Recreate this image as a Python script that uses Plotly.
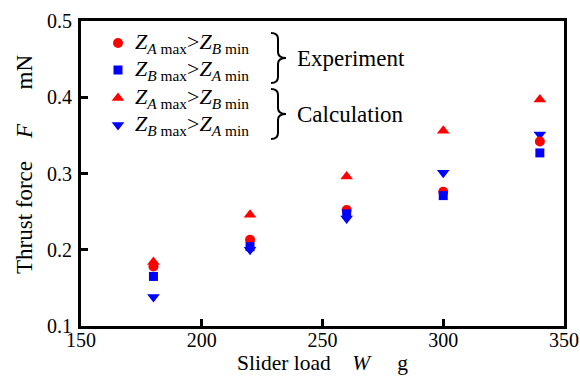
import plotly.graph_objects as go

# ---- data ----
loads = [180, 220, 260, 300, 340]
exp_a = [0.178, 0.213, 0.252, 0.276, 0.342]   # Experiment ZAmax > ZBmin (circle)
exp_b = [0.165, 0.204, 0.247, 0.271, 0.327]   # Experiment ZBmax > ZAmin (square)
calc_a = [0.184, 0.246, 0.296, 0.356, 0.397]  # Calculation ZAmax > ZBmin (triangle up)
calc_b = [0.138, 0.200, 0.241, 0.301, 0.351]  # Calculation ZBmax > ZAmin (triangle down)
x_ticks = [150, 200, 250, 300, 350]
y_ticks = [0.1, 0.2, 0.3, 0.4, 0.5]

RED = "#ff0000"
BLUE = "#0000ff"
FONT = "Liberation Serif, Times New Roman, serif"

W, H = 580, 378
L, R, T, B = 81, 16, 21, 52
PW, PH = W - L - R, H - T - B


def px2paper(px, py):
    return (px - L) / PW, (H - B - py) / PH


fig = go.Figure()
series = [
    (calc_b, "triangle-down", BLUE, 11),
    (exp_a, "circle", RED, 10),
    (exp_b, "square", BLUE, 9),
    (calc_a, "triangle-up", RED, 11),
]
for vals, sym, col, sz in series:
    fig.add_trace(go.Scatter(x=loads, y=vals, mode="markers",
                             marker=dict(symbol=sym, color=col, size=sz, line=dict(width=0)),
                             showlegend=False, cliponaxis=False))

# legend keys on an overlay axis in paper-like units
key_rows = [("circle", RED, 10, 43), ("square", BLUE, 9, 70),
            ("triangle-up", RED, 11, 98), ("triangle-down", BLUE, 11, 125)]
for sym, col, sz, py in key_rows:
    kx, ky = px2paper(118, py)
    fig.add_trace(go.Scatter(x=[kx], y=[ky], mode="markers", xaxis="x2", yaxis="y2",
                             marker=dict(symbol=sym, color=col, size=sz, line=dict(width=0)),
                             showlegend=False, cliponaxis=False))

lab_a = "<i>Z</i><sub><i>A</i> max</sub>&gt;<i>Z</i><sub><i>B</i> min</sub>"
lab_b = "<i>Z</i><sub><i>B</i> max</sub>&gt;<i>Z</i><sub><i>A</i> min</sub>"
anns = []
for txt, py in [(lab_a, 43), (lab_b, 70), (lab_a, 98), (lab_b, 125)]:
    ax_, ay_ = px2paper(133, py)
    anns.append(dict(x=ax_, y=ay_, xref="paper", yref="paper", text=txt, showarrow=False,
                     xanchor="left", yanchor="middle", font=dict(family=FONT, size=22, color="black")))
for txt, py in [("Experiment", 58), ("Calculation", 114)]:
    ax_, ay_ = px2paper(295, py)
    anns.append(dict(x=ax_, y=ay_, xref="paper", yref="paper", text=txt, showarrow=False,
                     xanchor="left", yanchor="middle", font=dict(family=FONT, size=23, color="black")))

NB = "\u00a0"
# y-axis title as rotated annotation
tx, ty = px2paper(24, 164)
anns.append(dict(x=tx, y=ty, xref="paper", yref="paper", textangle=-90,
                 text="Thrust force" + NB * 4 + "<i>F</i>" + NB * 6 + "mN", showarrow=False,
                 xanchor="center", yanchor="middle", font=dict(family=FONT, size=23, color="black")))

# braces
shapes = []
for top, bot in [(33, 83), (89, 139)]:
    x0, xm, x1 = 271, 278, 286
    mid = (top + bot) / 2
    pts = [
        ("M", [(x0, top)]),
        ("Q", [(xm, top), (xm, top + 6)]),
        ("L", [(xm, mid - 6)]),
        ("Q", [(xm, mid), (x1, mid)]),
        ("Q", [(xm, mid), (xm, mid + 6)]),
        ("L", [(xm, bot - 6)]),
        ("Q", [(xm, bot), (x0, bot)]),
    ]
    path = ""
    for cmd, ps in pts:
        path += cmd + " " + " ".join("%.5f,%.5f" % px2paper(a, b) for a, b in ps) + " "
    shapes.append(dict(type="path", path=path.strip(), xref="paper", yref="paper",
                       line=dict(color="black", width=2)))

axis_common = dict(showline=True, linecolor="black", linewidth=3, mirror=True,
                   ticks="inside", ticklen=7, tickwidth=2.5, tickcolor="black",
                   showgrid=False, zeroline=False, automargin=False,
                   tickfont=dict(family=FONT, size=20, color="black"))

fig.update_layout(
    width=W, height=H,
    margin=dict(l=L, r=R, t=T, b=B, pad=0, autoexpand=False),
    paper_bgcolor="white", plot_bgcolor="white",
    font=dict(family=FONT, color="black"),
    xaxis=dict(range=[150, 350], tickvals=x_ticks, ticktext=[str(v) for v in x_ticks],
               title=dict(text="Slider load" + NB * 4 + "<i>W</i>" + NB * 5 + "g",
                          font=dict(family=FONT, size=21.5, color="black"), standoff=2),
               ticklabelstandoff=-6,
               **axis_common),
    yaxis=dict(range=[0.1, 0.5], tickvals=y_ticks, ticktext=["%.1f" % v for v in y_ticks],
               ticklabelstandoff=2,
               **axis_common),
    xaxis2=dict(range=[0, 1], overlaying="x", visible=False, fixedrange=True),
    yaxis2=dict(range=[0, 1], overlaying="y", visible=False, fixedrange=True),
    annotations=anns, shapes=shapes,
    showlegend=False,
)

fig.write_html("out.html")
